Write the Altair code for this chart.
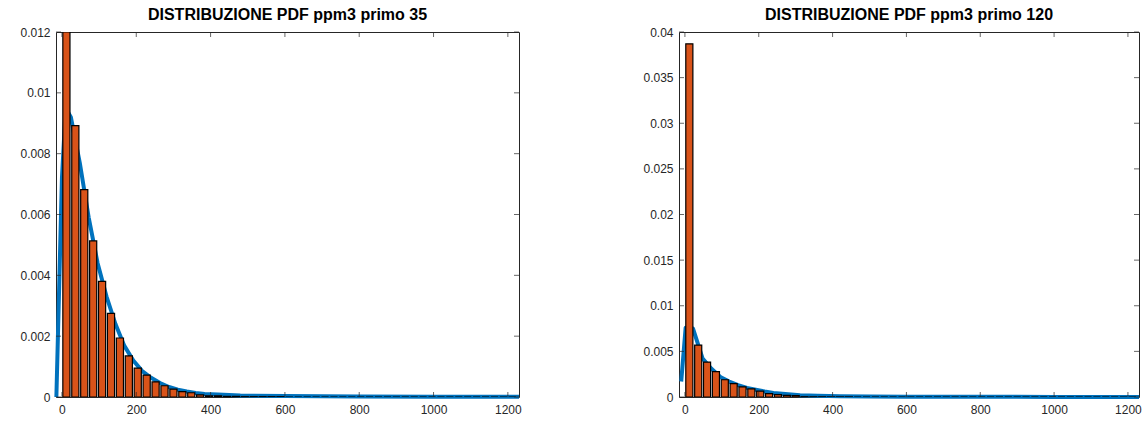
import altair as alt
import pandas as pd

# Histogram bins (width 24) and fitted PDF curves for two ppm3 series
BIN_W = 24
BAR_FRAC = 0.8

left_heights = [
    0.0120, 0.00892, 0.00682, 0.00513, 0.0038, 0.00275, 0.00194, 0.00135,
    0.00095, 0.00072, 0.0005, 0.00037, 0.00026, 0.00018, 0.00014, 0.00007,
    0.00004, 0.00004, 0.00002, 0.00002, 0.00001, 0.00001, 0.00001, 0.00001,
    0.00001, 0.0, 0.0, 0.0, 0.0, 0.0, 0.0, 0.0, 0.0, 0.0, 0.0, 0.0, 0.0,
    0.0, 0.0, 0.0, 0.0, 0.0, 0.0, 0.0, 0.0, 0.0, 0.0, 0.0, 0.0, 0.0, 0.0,
]
right_heights = [
    0.0387, 0.00569, 0.00383, 0.00277, 0.00189, 0.00146, 0.0011, 0.00088,
    0.00064, 0.00036, 0.00025, 0.00018, 0.00015, 0.00003, 0.00002, 0.00002,
    0.00001, 0.00001, 0.00001, 0.0, 0.0, 0.0, 0.0, 0.0, 0.0, 0.0, 0.0, 0.0,
    0.0, 0.0, 0.0, 0.0, 0.0, 0.0, 0.0, 0.0, 0.0, 0.0, 0.0, 0.0, 0.0, 0.0,
    0.0, 0.0, 0.0, 0.0, 0.0, 0.0, 0.0, 0.0, 0.0,
]

left_pdf_x = [-15, 0, 10, 24, 48, 72, 96, 120, 144, 168, 192, 216, 240, 264,
              288, 312, 336, 360, 384, 420, 480, 600, 800, 1000, 1230]
left_pdf_y = [0.0, 0.0072, 0.0095, 0.0092, 0.0077, 0.0059, 0.0044, 0.0033,
              0.0024, 0.00168, 0.0012, 0.00085, 0.00063, 0.00046, 0.00033,
              0.00024, 0.00018, 0.00013, 0.0001, 0.00008, 0.00005, 0.00003,
              0.00002, 0.00001, 0.00001]

right_pdf_x = [-10, 2, 22, 48, 72, 96, 120, 144, 168, 192, 216, 240, 264, 288,
               312, 360, 420, 500, 600, 800, 1000, 1230]
right_pdf_y = [0.0017, 0.0076, 0.0075, 0.0042, 0.0031, 0.0022, 0.0017, 0.0013,
               0.0010, 0.0008, 0.0006, 0.00045, 0.00035, 0.00027, 0.0002,
               0.00013, 0.00009, 0.00006, 0.00004, 0.00002, 0.00001, 0.00001]

x_ticks = [0, 200, 400, 600, 800, 1000, 1200]
left_y_ticks = [0, 0.002, 0.004, 0.006, 0.008, 0.01, 0.012]
right_y_ticks = [0, 0.005, 0.01, 0.015, 0.02, 0.025, 0.03, 0.035, 0.04]

X_DOMAIN = [-16, 1230]
FONT = "Liberation Sans"
AXIS_COLOR = "#262626"
BAR_COLOR = "#D95319"
LINE_COLOR = "#0072BD"
H = 365


def panel(title, heights, pdf_x, pdf_y, y_ticks, width):
    bars = pd.DataFrame({"left": [i * BIN_W for i in range(len(heights))],
                         "h": heights})
    pdf = pd.DataFrame({"x": pdf_x, "y": pdf_y})
    y_dom = [y_ticks[0], y_ticks[-1]]

    xs = alt.Scale(domain=X_DOMAIN, nice=False, zero=False)
    ys = alt.Scale(domain=y_dom, nice=False)
    x_axis = alt.Axis(values=x_ticks, ticks=False, domain=False, grid=False,
                      labelPadding=7, format="d", title=None)
    y_axis = alt.Axis(values=y_ticks, ticks=False, domain=False, grid=False,
                      labelPadding=6, format="~g", title=None)

    # fitted curve: thick line drawn beneath the bars, not clipped at the frame
    line = alt.Chart(pdf).mark_line(
        color=LINE_COLOR, strokeWidth=4, strokeJoin="round"
    ).encode(
        x=alt.X("x:Q", scale=xs, axis=x_axis),
        y=alt.Y("y:Q", scale=ys, axis=y_axis),
    )

    pad = BIN_W * (1 - BAR_FRAC) / 2
    bar = alt.Chart(bars).transform_calculate(
        x0=f"datum.left + {pad}", x1=f"datum.left + {BIN_W - pad}"
    ).mark_bar(
        color=BAR_COLOR, stroke="black", strokeWidth=1.2, clip=True
    ).encode(
        x=alt.X("x0:Q", scale=xs),
        x2="x1:Q",
        y=alt.Y("h:Q", scale=ys),
        y2=alt.datum(0),
    )

    xt = pd.DataFrame({"v": x_ticks})
    yt = pd.DataFrame({"v": y_ticks})
    tick_style = dict(color=AXIS_COLOR, thickness=1, size=5)
    xb = alt.Chart(xt).mark_tick(orient="vertical", **tick_style).encode(
        x=alt.X("v:Q", scale=xs), y=alt.value(H - 2.5))
    xtp = alt.Chart(xt).mark_tick(orient="vertical", **tick_style).encode(
        x=alt.X("v:Q", scale=xs), y=alt.value(2.5))
    yl = alt.Chart(yt).mark_tick(orient="horizontal", **tick_style).encode(
        y=alt.Y("v:Q", scale=ys), x=alt.value(2.5))
    yr = alt.Chart(yt).mark_tick(orient="horizontal", **tick_style).encode(
        y=alt.Y("v:Q", scale=ys), x=alt.value(width - 2.5))

    return alt.layer(line, bar, xb, xtp, yl, yr).properties(
        width=width, height=H,
        title=alt.TitleParams(title, font=FONT, fontSize=16, fontWeight="bold",
                              color="black", offset=3, anchor="middle"),
    )


left = panel("DISTRIBUZIONE PDF ppm3 primo 35", left_heights,
             left_pdf_x, left_pdf_y, left_y_ticks, 463)
right = panel("DISTRIBUZIONE PDF ppm3 primo 120", right_heights,
              right_pdf_x, right_pdf_y, right_y_ticks, 460)

chart = alt.hconcat(left, right, spacing=120).properties(
    padding={"left": 19, "top": 6, "right": 5, "bottom": 5},
    background="white",
).configure_view(
    stroke=AXIS_COLOR, strokeWidth=1
).configure_axis(
    labelFont=FONT, labelFontSize=12, labelColor=AXIS_COLOR
)

chart.save("out.html", embed_options={"renderer": "svg", "actions": False})
